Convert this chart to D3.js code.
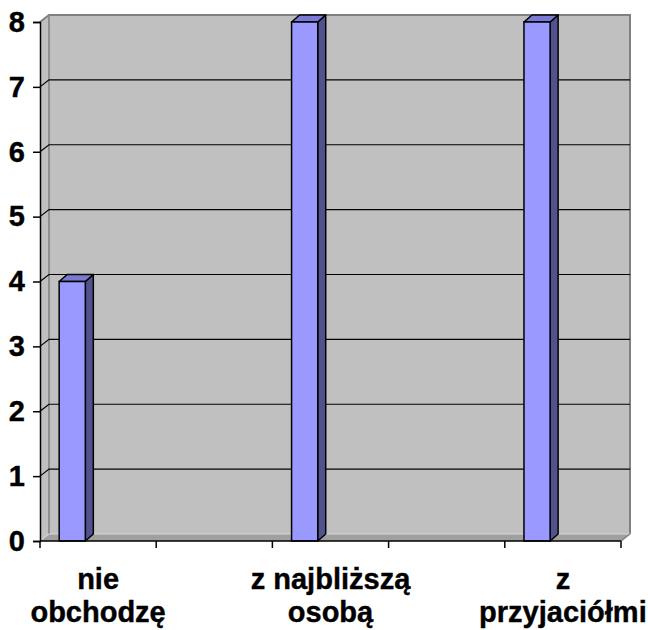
<!DOCTYPE html>
<html>
<head>
<meta charset="utf-8">
<script src="https://cdn.jsdelivr.net/npm/d3@7"></script>
<style>
  body { margin: 0; background: #fff; }
  text { font-family: "Liberation Sans", Arial, sans-serif; font-weight: bold; }
</style>
</head>
<body>
<script>
// categories (Excel skipped every other label, so 2 and 4 are blank)
var categories = ["nie\nobchodzę", "", "z najbliższą\nosobą", "", "z\nprzyjaciółmi"];
var values = [4, null, 8, null, 8];
var yTicks = [0, 1, 2, 3, 4, 5, 6, 7, 8];

var width = 648, height = 630;
var depthX = 9, depthY = 7;      // wall depth
var barDX = 8, barDY = 7;        // bar depth
var fontSize = 29;

var svg = d3.select("body").append("svg")
  .attr("width", width)
  .attr("height", height);

var x = d3.scaleBand()
  .domain(d3.range(categories.length))
  .range([40, 621])
  .padding(0);

var y = d3.scaleLinear()
  .domain([0, 8])
  .range([541, 22]);

var x0 = x.range()[0], x1 = x.range()[1];
var yBase = y(0), yTop = y(8);

// back wall
svg.append("rect")
  .attr("x", x0 + depthX)
  .attr("y", yTop - depthY)
  .attr("width", x1 - x0)
  .attr("height", yBase - yTop)
  .attr("fill", "#c0c0c0");

// left wall
svg.append("polygon")
  .attr("points", [[x0, yTop], [x0 + depthX, yTop - depthY], [x0 + depthX, yBase - depthY], [x0, yBase]].join(" "))
  .attr("fill", "#c0c0c0");

// floor
svg.append("polygon")
  .attr("points", [[x0, yBase], [x1, yBase], [x1 + depthX, yBase - depthY], [x0 + depthX, yBase - depthY]].join(" "))
  .attr("fill", "#a0a0a0");

// wall edges
svg.append("path")
  .attr("d", "M" + x0 + "," + yTop + "L" + (x0 + depthX) + "," + (yTop - depthY) +
    "H" + (x1 + depthX) + "V" + (yBase - depthY))
  .attr("fill", "none")
  .attr("stroke", "#808080")
  .attr("stroke-width", 2);

svg.append("line")
  .attr("x1", x0 + depthX).attr("x2", x0 + depthX)
  .attr("y1", yTop - depthY).attr("y2", yBase - depthY)
  .attr("stroke", "#808080")
  .attr("stroke-width", 1.5);

svg.append("path")
  .attr("d", "M" + x0 + "," + yBase + "L" + (x0 + depthX) + "," + (yBase - depthY) + "H" + (x1 + depthX))
  .attr("fill", "none")
  .attr("stroke", "#d8d8d8")
  .attr("stroke-width", 1);

svg.append("line")
  .attr("x1", x1).attr("y1", yBase)
  .attr("x2", x1 + depthX).attr("y2", yBase - depthY)
  .attr("stroke", "#808080")
  .attr("stroke-width", 1.5);

// gridlines
var grid = yTicks.filter(function(d) { return d > 0 && d < 8; });
svg.selectAll(".grid")
  .data(grid)
  .enter().append("path")
  .attr("class", "grid")
  .attr("d", function(d) {
    return "M" + x0 + "," + y(d) + "L" + (x0 + depthX) + "," + (y(d) - depthY) + "H" + (x1 + depthX);
  })
  .attr("fill", "none")
  .attr("stroke", "#000")
  .attr("stroke-width", 1.2);

// bars
var bars = values.map(function(v, i) { return { i: i, v: v }; })
  .filter(function(d) { return d.v != null; });

var bw = x.bandwidth();
var g = svg.selectAll(".bar").data(bars).enter().append("g").attr("class", "bar");

function bx(d) { return x(d.i) + bw * 0.165; }
var barW = bw * 0.225;

g.append("polygon")
  .attr("points", function(d) {
    var a = bx(d), b = a + barW, t = y(d.v);
    return [[b, t], [b + barDX, t - barDY], [b + barDX, yBase - barDY], [b, yBase]].join(" ");
  })
  .attr("fill", "#52528f")
  .attr("stroke", "#000")
  .attr("stroke-width", 1.5)
  .attr("stroke-linejoin", "round");

g.append("polygon")
  .attr("points", function(d) {
    var a = bx(d), b = a + barW, t = y(d.v);
    return [[a, t], [a + barDX, t - barDY], [b + barDX, t - barDY], [b, t]].join(" ");
  })
  .attr("fill", "#7a7ad2")
  .attr("stroke", "#000")
  .attr("stroke-width", 1.5)
  .attr("stroke-linejoin", "round");

g.append("rect")
  .attr("x", bx)
  .attr("y", function(d) { return y(d.v); })
  .attr("width", barW)
  .attr("height", function(d) { return yBase - y(d.v); })
  .attr("fill", "#9999ff")
  .attr("stroke", "#000")
  .attr("stroke-width", 1.5);

// y axis
var yAxis = svg.append("g")
  .attr("transform", "translate(" + x0 + ",0)")
  .call(d3.axisLeft(y).tickValues(yTicks).tickSize(7).tickPadding(8).tickFormat(d3.format("d")));
yAxis.select(".domain").attr("stroke", "#000").attr("stroke-width", 1.5);
yAxis.selectAll(".tick line").attr("stroke", "#000").attr("stroke-width", 1.5);
yAxis.selectAll("text")
  .attr("font-size", fontSize)
  .attr("fill", "#000")
  .attr("stroke", "#000")
  .attr("stroke-width", 0.4)
  .style("font-family", "'Liberation Sans', Arial, sans-serif")
  .style("font-weight", "bold");

// x axis
var xAxisG = svg.append("g").attr("transform", "translate(0," + yBase + ")");
xAxisG.append("line")
  .attr("x1", x0).attr("x2", x1)
  .attr("stroke", "#000").attr("stroke-width", 1.5);
var tickPos = d3.range(categories.length + 1).map(function(i) { return x0 + i * x.step(); });
xAxisG.selectAll(".xt").data(tickPos).enter().append("line")
  .attr("class", "xt")
  .attr("x1", function(d) { return d; }).attr("x2", function(d) { return d; })
  .attr("y1", 0).attr("y2", 7)
  .attr("stroke", "#000").attr("stroke-width", 1.5);

var labels = xAxisG.selectAll(".xl").data(categories).enter().append("text")
  .attr("class", "xl")
  .attr("text-anchor", "middle")
  .attr("font-size", fontSize)
  .attr("stroke", "#000")
  .attr("stroke-width", 0.4)
  .attr("x", function(d, i) { return x(i) + bw / 2; })
  .attr("y", 48);
labels.selectAll("tspan")
  .data(function(d) { return d ? d.split("\n") : []; })
  .enter().append("tspan")
  .attr("x", function() { return d3.select(this.parentNode).attr("x"); })
  .attr("dy", function(d, i) { return i === 0 ? 0 : 33; })
  .text(function(d) { return d; });
</script>
</body>
</html>
